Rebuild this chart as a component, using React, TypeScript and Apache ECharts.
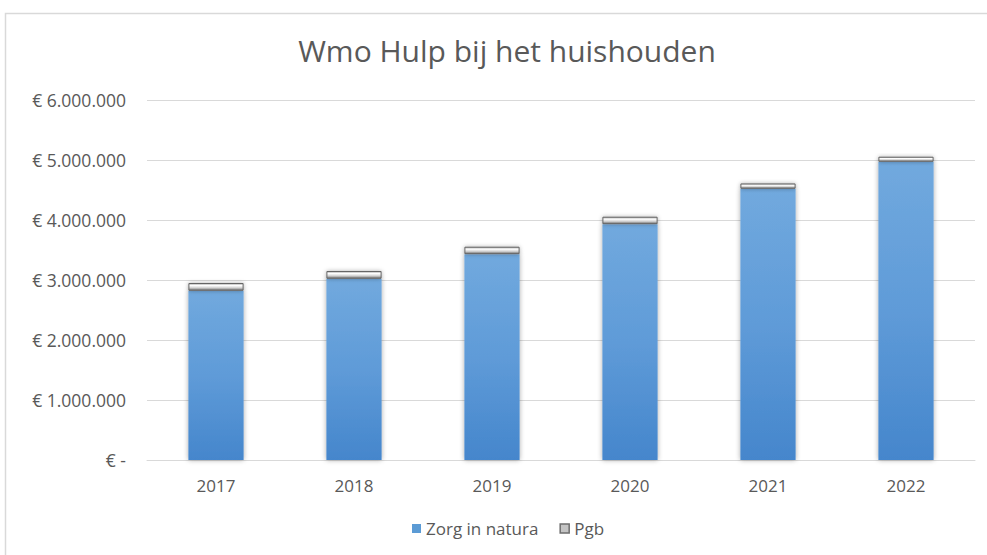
import React, { useEffect, useRef } from "react";
import * as echarts from "echarts";

const years = ["2017", "2018", "2019", "2020", "2021", "2022"];
const zorgInNatura = [2820000, 3020000, 3430000, 3930000, 4520000, 4970000];
const pgb = [130000, 130000, 125000, 125000, 90000, 85000];
const yTicks = [0, 1000000, 2000000, 3000000, 4000000, 5000000, 6000000];

const FONT = "'Open Sans', 'Noto Sans', sans-serif";

function fmt(v: number): string {
  if (v === 0) return "€ -";
  return "€ " + String(Math.round(v)).replace(/\B(?=(\d{3})+(?!\d))/g, ".");
}

export default function App() {
  const ref = useRef<HTMLDivElement>(null);
  useEffect(() => {
    if (!ref.current) return;
    const chart = echarts.init(ref.current, null, { renderer: "svg" });
    chart.setOption({
      animation: false,
      backgroundColor: "#ffffff",
      title: {
        text: "Wmo Hulp bij het huishouden",
        left: 502,
        textAlign: "center",
        top: 30,
        textStyle: { fontFamily: FONT, fontSize: 30, fontWeight: "normal", color: "#595959" },
      },
      graphic: [
        {
          type: "rect",
          shape: { x: 5.5, y: 13.5, width: 1100, height: 700 },
          style: { fill: "none", stroke: "#d9d9d9", lineWidth: 1.5 },
          silent: true,
        },
      ],
      legend: {
        bottom: 13,
        left: 407,
        icon: "rect",
        itemWidth: 9,
        itemHeight: 9,
        itemGap: 21,
        textStyle: { fontFamily: FONT, fontSize: 17, color: "#595959" },
        data: [
          { name: "Zorg in natura", itemStyle: { color: "#5b9bd5", shadowBlur: 0 } },
          {
            name: "Pgb",
            itemStyle: { color: "#c4c4c4", borderColor: "#6e6e6e", borderWidth: 1.5, shadowBlur: 0 },
          },
        ],
      },
      grid: { left: 147, right: 12, top: 100, bottom: 95, containLabel: false },
      xAxis: {
        type: "category",
        data: years,
        axisLine: { lineStyle: { color: "#d9d9d9", width: 1 } },
        axisTick: { show: false },
        axisLabel: { fontFamily: FONT, fontSize: 17, color: "#595959", margin: 17 },
      },
      yAxis: {
        type: "value",
        min: yTicks[0],
        max: yTicks[yTicks.length - 1],
        interval: yTicks[1] - yTicks[0],
        axisLine: { show: false },
        axisTick: { show: false },
        splitLine: { lineStyle: { color: "#d9d9d9", width: 1 } },
        axisLabel: { fontFamily: FONT, fontSize: 17.5, color: "#595959", margin: 21, formatter: fmt },
      },
      series: [
        {
          name: "Zorg in natura",
          type: "bar",
          stack: "total",
          barWidth: "40%",
          data: zorgInNatura,
          itemStyle: {
            color: new echarts.graphic.LinearGradient(0, 0, 0, 1, [
              { offset: 0, color: "#71a9de" },
              { offset: 0.5, color: "#5f9bd8" },
              { offset: 1, color: "#4586cc" },
            ]),
            shadowColor: "rgba(0,0,0,0.35)",
            shadowBlur: 5,
            shadowOffsetX: 0,
            shadowOffsetY: 0,
          },
        },
        {
          name: "Pgb",
          type: "bar",
          stack: "total",
          barWidth: "40%",
          data: pgb,
          itemStyle: {
            color: new echarts.graphic.LinearGradient(0, 0, 0, 1, [
              { offset: 0, color: "#a8a8a8" },
              { offset: 0.3, color: "#ffffff" },
              { offset: 0.65, color: "#d0d0d0" },
              { offset: 1, color: "#6a6a6a" },
            ]),
            borderColor: "#666666",
            borderWidth: 1,
            shadowColor: "rgba(0,0,0,0.3)",
            shadowBlur: 4,
          },
        },
      ],
    });
    return () => chart.dispose();
  }, []);
  return <div ref={ref} style={{ width: 987, height: 555, position: "absolute", left: 0, top: 0 }} />;
}
